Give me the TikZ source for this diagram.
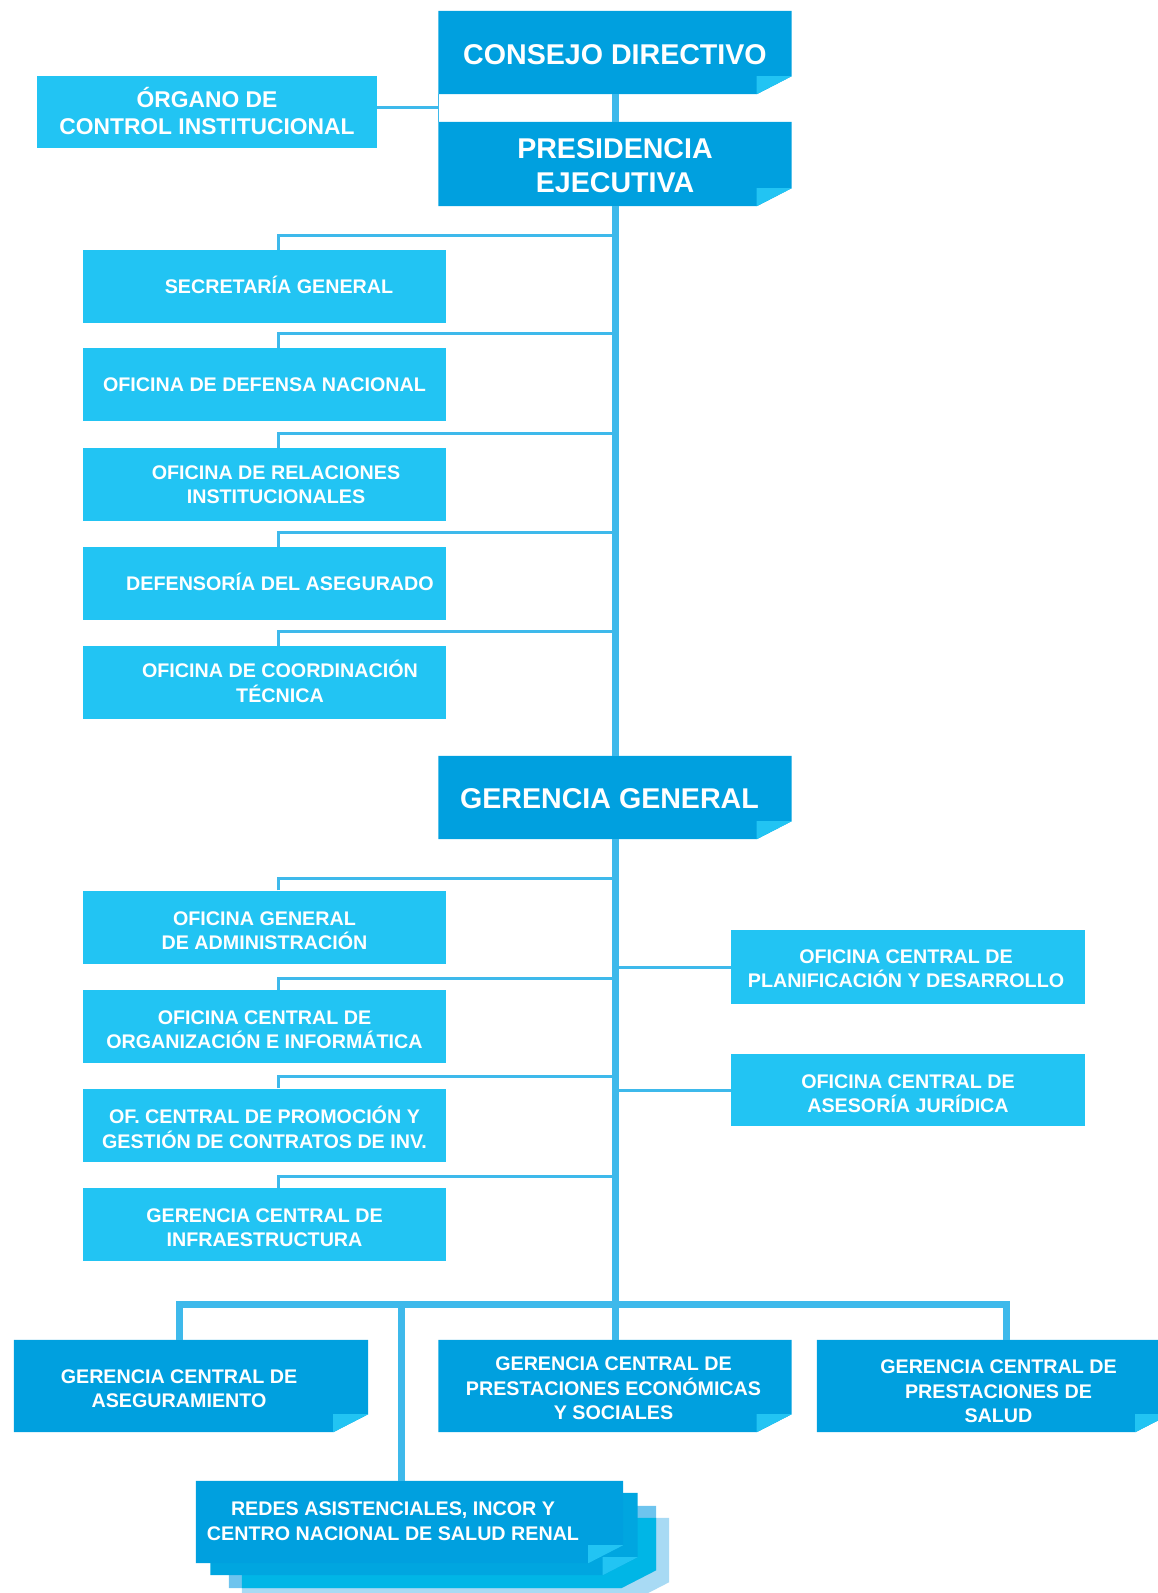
\documentclass[tikz,border=0pt]{standalone}
\usepackage{fontspec}
\setmainfont{Liberation Sans}
\usetikzlibrary{backgrounds}
\definecolor{dblue}{RGB}{0,160,223}
\definecolor{lblue}{RGB}{34,196,243}
\definecolor{conn}{RGB}{62,185,235}
\definecolor{stb}{RGB}{0,166,224}
\definecolor{stc}{RGB}{110,196,238}
\definecolor{stcf}{RGB}{130,205,240}
\definecolor{std}{RGB}{168,218,244}
\definecolor{stov}{RGB}{0,182,230}
\newcommand\foldshape[3]{%
  \fill[#2] (#1.north west) -- (#1.north east) -- ([yshift=18pt]#1.south east) -- ([xshift=-35pt]#1.south east) -- (#1.south west) -- cycle;
  \fill[#3] ([xshift=-35pt,yshift=18pt]#1.south east) -- ([yshift=18pt]#1.south east) -- ([xshift=-35pt]#1.south east) -- cycle;}
\newcommand\stackshape[3]{#3 ([xshift=#1,yshift=#2]red.north west) -- ([xshift=#1,yshift=#2]red.north east) -- ([xshift=#1,yshift=#2+18pt]red.south east) -- ([xshift=#1-35pt,yshift=#2]red.south east) -- ([xshift=#1,yshift=#2]red.south west) -- cycle;}
\newcommand\stackfold[3]{#3 ([xshift=#1-35pt,yshift=#2+18pt]red.south east) -- ([xshift=#1,yshift=#2+18pt]red.south east) -- ([xshift=#1-35pt,yshift=#2]red.south east) -- cycle;}
\begin{document}
\begin{tikzpicture}[x=1pt,y=-1pt,
  lbox/.style={fill=lblue, minimum width=363pt, minimum height=73pt, inner sep=0pt},
  rbox/.style={fill=lblue, minimum width=354pt, minimum height=73pt, inner sep=0pt},
  fbox/.style={minimum width=353pt, minimum height=83pt, inner sep=0pt},
  bbox/.style={minimum width=354pt, minimum height=92pt, inner sep=0pt},
  txt/.style={text=white, font=\bfseries\fontsize{19.7}{24.4}\selectfont, align=center, inner sep=0pt},
  orgtxt/.style={text=white, font=\bfseries\fontsize{22.8}{27.5}\selectfont, align=center, inner sep=0pt},
  bigtxt/.style={text=white, font=\bfseries\fontsize{28.6}{34.5}\selectfont, align=center, inner sep=0pt},
  cthin/.style={draw=conn, line width=3pt},
  chair/.style={draw=conn, line width=1.5pt},
  cthick/.style={draw=conn, line width=7pt},
]
\useasboundingbox (0,0) rectangle (1157,1593);

% ---- main dark boxes (filled on background layer)
\node[fbox] (cd) at (615,52.5) {};
\node[fbox, minimum height=84pt] (pres) at (615,164) {};
\node[fbox] (gg) at (615,797.5) {};
\node[bbox] (ase) at (191,1386) {};
\node[bbox, minimum width=353pt] (eco) at (615,1386) {};
\node[bbox, minimum width=353pt] (sal) at (993.5,1386) {};
\node[minimum width=427pt, minimum height=82pt, inner sep=0pt] (red) at (409.5,1522) {};

% ---- light boxes
\node[lbox, minimum width=340pt, minimum height=72pt] (org) at (207,112) {};
\node[lbox] (sec) at (264.5,286.5) {};
\node[lbox] (def) at (264.5,384.5) {};
\node[lbox] (rel) at (264.5,484.5) {};
\node[lbox] (dfs) at (264.5,583.5) {};
\node[lbox] (coo) at (264.5,682.5) {};
\node[lbox] (adm) at (264.5,927) {};
\node[lbox] (oin) at (264.5,1026.5) {};
\node[lbox] (pro) at (264.5,1125) {};
\node[lbox] (inf) at (264.5,1224.5) {};
\node[rbox, minimum height=74pt] (pla) at (908,967) {};
\node[rbox, minimum height=72pt] (jur) at (908,1090) {};

\begin{pgfonlayer}{background}
  \foldshape{cd}{dblue}{lblue}
  \foldshape{pres}{dblue}{lblue}
  \foldshape{gg}{dblue}{lblue}
  \foldshape{ase}{dblue}{lblue}
  \foldshape{eco}{dblue}{lblue}
  \foldshape{sal}{dblue}{lblue}
  % stacked sheets behind REDES
  \stackshape{46pt}{-37pt}{\fill[std]}
  \stackshape{33pt}{-25pt}{\fill[stc]}
  \stackfold{33pt}{-25pt}{\fill[stcf]}
  \begin{scope}
    \stackshape{46pt}{-37pt}{\clip}
    \stackshape{33pt}{-25pt}{\fill[stov]}
  \end{scope}
  \stackshape{14.5pt}{-12pt}{\fill[stb]}
  \stackfold{14.5pt}{-12pt}{\fill[lblue]}
  \foldshape{red}{dblue}{lblue}
\end{pgfonlayer}

% ---- texts
\node[bigtxt] (cd-t) at ([yshift=-2pt]cd.center) {CONSEJO DIRECTIVO};
\node[bigtxt] (pres-t) at ([yshift=-1.5pt]pres.center) {PRESIDENCIA\\EJECUTIVA};
\node[bigtxt] (gg-t) at ([xshift=-5.5pt,yshift=-1pt]gg.center) {GERENCIA GENERAL};
\node[orgtxt] (org-t) at ([yshift=1pt]org.center) {ÓRGANO DE\\CONTROL INSTITUCIONAL};
\node[txt] (sec-t) at ([xshift=14.5pt,yshift=2pt]sec.center) {SECRETARÍA GENERAL};
\node[txt] (def-t) at (def.center) {OFICINA DE DEFENSA NACIONAL};
\node[txt] (rel-t) at ([xshift=11.5pt]rel.center) {OFICINA DE RELACIONES\\INSTITUCIONALES};
\node[txt] (dfs-t) at ([xshift=15.5pt,yshift=2pt]dfs.center) {DEFENSORÍA DEL ASEGURADO};
\node[txt] (coo-t) at ([xshift=15.5pt,yshift=1pt]coo.center) {OFICINA DE COORDINACIÓN\\TÉCNICA};
\node[txt] (adm-t) at ([yshift=-4pt]adm.center) {OFICINA GENERAL\\DE ADMINISTRACIÓN};
\node[txt] (oin-t) at ([yshift=-3.5pt]oin.center) {OFICINA CENTRAL DE\\ORGANIZACIÓN E INFORMÁTICA};
\node[txt] (pro-t) at ([yshift=-2.5pt]pro.center) {OF. CENTRAL DE PROMOCIÓN Y\\GESTIÓN DE CONTRATOS DE INV.};
\node[txt] (inf-t) at ([yshift=-3.5pt]inf.center) {GERENCIA CENTRAL DE\\INFRAESTRUCTURA};
\node[txt] (pla-t) at ([xshift=-2pt,yshift=-2pt]pla.center) {OFICINA CENTRAL DE\\PLANIFICACIÓN Y DESARROLLO};
\node[txt] (jur-t) at ([yshift=-3.5pt]jur.center) {OFICINA CENTRAL DE\\ASESORÍA JURÍDICA};
\node[txt] (ase-t) at ([xshift=-12pt,yshift=-2.5pt]ase.center) {GERENCIA CENTRAL DE\\ASEGURAMIENTO};
\node[txt] (eco-t) at ([xshift=-1.5pt,yshift=-2.5pt]eco.center) {GERENCIA CENTRAL DE\\PRESTACIONES ECONÓMICAS\\Y SOCIALES};
\node[txt] (sal-t) at ([xshift=5pt,yshift=-5.5pt]sal.center) {GERENCIA CENTRAL DE\\PRESTACIONES DE\\SALUD};
\node[txt] (red-t) at ([xshift=-16.5pt,yshift=1pt]red.center) {REDES ASISTENCIALES, INCOR Y\\CENTRO NACIONAL DE SALUD RENAL};

% ---- connectors: top part
\draw[cthick] (cd.south) -- (pres.north);
\draw[cthick] (pres.south) -- (gg.north);
\draw[cthin] ([yshift=5pt]org.east) -- ([yshift=5pt]org.east -| cd.west);
\draw[chair] (cd.south west) -- (pres.north west);
\foreach \b in {sec,def,rel,dfs,coo}{
  \path ([xshift=14pt,yshift=14.5pt]\b.north) coordinate (\b-j);
  \draw[cthin] ([xshift=14pt]\b.north) -- (\b-j) -- (\b-j -| gg.south);
}
\foreach \b in {adm,oin,pro,inf}{
  \path ([xshift=14pt,yshift=11.5pt]\b.north) coordinate (\b-j);
  \draw[cthin] ([xshift=14pt]\b.north) -- (\b-j) -- (\b-j -| gg.south);
}
\draw[cthin] (pla.west -| gg.south) -- (pla.west);
\draw[cthin] (jur.west -| gg.south) -- (jur.west);

% ---- bottom bus
\coordinate (bus) at (0,1304);
\path ([xshift=-12pt]ase.north) coordinate (ase-j);
\path ([xshift=12.5pt]sal.north) coordinate (sal-j);
\path ([xshift=-8.5pt]red.north) coordinate (red-j);
\draw[cthick] (gg.south) -- (eco.north);
\draw[cthick] (ase-j) -- (ase-j |- bus) -- (sal-j |- bus) -- (sal-j);
\draw[cthick] (red-j |- bus) -- (red-j);
\end{tikzpicture}
\end{document}
